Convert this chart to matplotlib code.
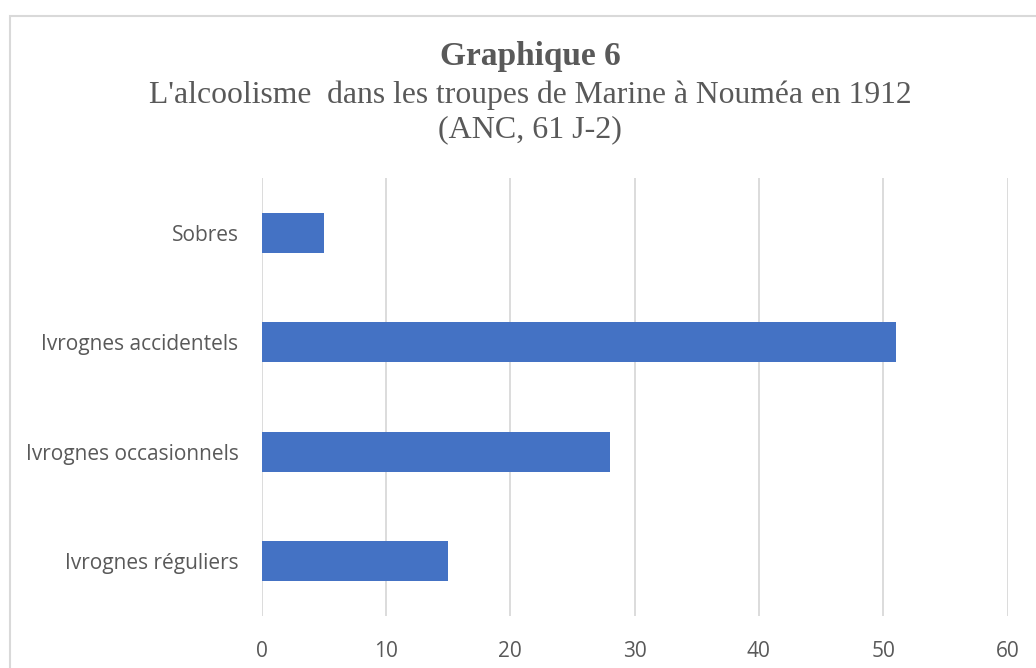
import matplotlib
import matplotlib.pyplot as plt
from matplotlib.patches import Rectangle

matplotlib.use("Agg")

categories = [
    "Ivrognes réguliers",
    "Ivrognes occasionnels",
    "Ivrognes accidentels",
    "Sobres",
]
values = [15, 28, 51, 5]
x_ticks = [0, 10, 20, 30, 40, 50, 60]

TEXT_COLOR = "#595959"
BAR_COLOR = "#4472C4"
GRID_COLOR = "#d9d9d9"

fig = plt.figure(figsize=(10.36, 6.68), dpi=100)
W, H = 1036, 668

# chart area border (cut off at right and bottom like the reference)
fig.patches.append(Rectangle((10 / W, -0.05), 1.1, 1 - 16 / H + 0.05,
                             transform=fig.transFigure, fill=False,
                             edgecolor=GRID_COLOR, linewidth=1.5))

ax = fig.add_axes([261.5 / W, 1 - 616 / H, (1007.5 - 261.5) / W, (616 - 178) / H])
ax.barh(range(len(categories)), values, height=0.365, color=BAR_COLOR, zorder=3)
ax.set_xlim(0, 60)
ax.set_ylim(-0.5, len(categories) - 0.5)
ax.set_xticks(x_ticks)
ax.set_yticks(range(len(categories)))
ax.set_yticklabels(categories)
ax.grid(axis="x", color=GRID_COLOR, linewidth=1.3, zorder=0)
for s in ax.spines.values():
    s.set_visible(False)
ax.tick_params(length=0, colors=TEXT_COLOR, labelsize=15)
ax.tick_params(axis="y", pad=16.5)
ax.tick_params(axis="x", pad=18)
for lbl in ax.get_xticklabels() + ax.get_yticklabels():
    lbl.set_fontfamily("Open Sans")

serif = "Liberation Serif"
fig.text(530 / W, 1 - 65 / H, "Graphique 6", ha="center", va="baseline",
         fontsize=24, fontweight="bold", family=serif, color=TEXT_COLOR)
fig.text(530 / W, 1 - 103 / H, "L'alcoolisme  dans les troupes de Marine à Nouméa en 1912",
         ha="center", va="baseline", fontsize=22.8, family=serif, color=TEXT_COLOR)
fig.text(530 / W, 1 - 137 / H, "(ANC, 61 J-2)", ha="center", va="baseline",
         fontsize=23, family=serif, color=TEXT_COLOR)

fig.savefig("out.png", dpi=100)
